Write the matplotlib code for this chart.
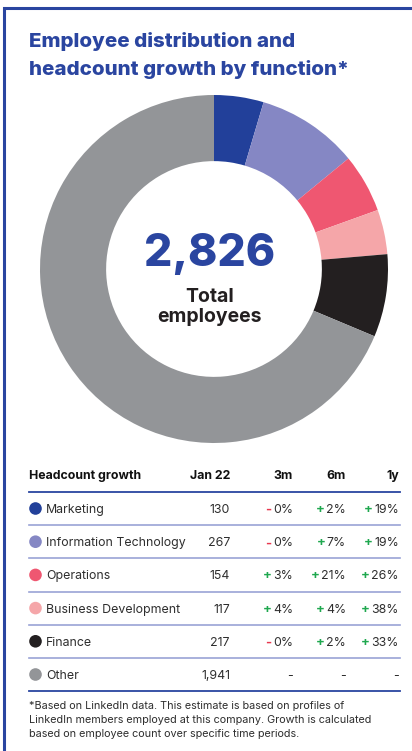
import matplotlib
matplotlib.use("Agg")
import matplotlib.pyplot as plt
from matplotlib.lines import Line2D
from matplotlib.patches import Circle

W, H, DPI = 412, 751, 100

functions = ["Marketing", "Information Technology", "Operations",
             "Business Development", "Finance", "Other"]
jan22 = [130, 267, 154, 117, 217, 1941]
growth_3m = ["-0%", "-0%", "+3%", "+4%", "-0%", None]
growth_6m = ["+2%", "+7%", "+21%", "+4%", "+2%", None]
growth_1y = ["+19%", "+19%", "+26%", "+38%", "+33%", None]
columns = ["Headcount growth", "Jan 22", "3m", "6m", "1y"]
colors = ["#22409a", "#8587c4", "#ef5771", "#f5a6a9", "#231f20", "#939598"]

BLUE = "#2a45a0"
TEXT = "#2e2e2e"
RED = "#e8384f"
GREEN = "#1fa84f"
FONT = ["Inter", "DejaVu Sans"]
FS = 8.9

fig = plt.figure(figsize=(W / DPI, H / DPI), dpi=DPI)
fig.patch.set_facecolor("white")

# full-figure overlay in pixel coordinates
ov = fig.add_axes([0, 0, 1, 1])
ov.set_xlim(0, W)
ov.set_ylim(H, 0)
ov.axis("off")

# frame along top and left edges
ov.add_line(Line2D([4.5, 4.5, W], [H, 7.5, 7.5], color=BLUE, lw=2.2,
                   solid_joinstyle="miter"))

# title
ov.text(29, 47, "Employee distribution and", fontsize=14.8, fontweight="heavy",
        color=BLUE, family=FONT, va="baseline")
ov.text(29, 75, "headcount growth by function*", fontsize=14.8,
        fontweight="heavy", color=BLUE, family=FONT, va="baseline")

# donut
cx, cy, r = 214, 269, 174
pax = fig.add_axes([(cx - r) / W, 1 - (cy + r) / H, 2 * r / W, 2 * r / H])
pax.pie(jan22, colors=colors, startangle=90, counterclock=False, radius=1,
        wedgeprops=dict(width=0.38, linewidth=0))
pax.set_aspect("equal")
pax.set_xlim(-1, 1)
pax.set_ylim(-1, 1)

total = sum(jan22)
ov.text(cx - 4, 254, f"{total:,}", fontsize=32, fontweight="heavy", color=BLUE,
        family=FONT, ha="center", va="center")
ov.text(cx - 4, 297, "Total", fontsize=14, fontweight="bold", color="#231f20",
        family=FONT, ha="center", va="center")
ov.text(cx - 4, 317, "employees", fontsize=14, fontweight="bold",
        color="#231f20", family=FONT, ha="center", va="center")

# table
col_x = [29, 230, 293, 346, 399]
x0, x1 = 29, 400
header_y = 476
for i, name in enumerate(columns):
    ov.text(col_x[i], header_y, name, fontsize=FS, fontweight="bold",
            color="#111111", family=FONT, ha="left" if i == 0 else "right",
            va="center")
ov.plot([x0, x1], [491.5, 491.5], color=BLUE, lw=1.3)

row_y0, row_dy = 508.5, 33.2
dy_text = 1.5
sign_items = []
for k, name in enumerate(functions):
    y = row_y0 + k * row_dy
    ty = y + dy_text
    ov.add_patch(Circle((35.5, y), 6.3, color=colors[k], lw=0))
    ov.text(46, ty, name, fontsize=FS, color=TEXT, family=FONT,
            ha="left", va="center")
    ov.text(col_x[1], ty, f"{jan22[k]:,}", fontsize=FS, color=TEXT,
            family=FONT, ha="right", va="center")
    for c, vals in zip(col_x[2:], [growth_3m, growth_6m, growth_1y]):
        v = vals[k]
        if v is None:
            ov.text(c, ty, "-", fontsize=FS, color=TEXT, family=FONT,
                    ha="right", va="center")
            continue
        t = ov.text(c, ty, v[1:], fontsize=FS, color=TEXT, family=FONT,
                    ha="right", va="center")
        sign_items.append((t, v[0], ty))
    line_y = y + 16.6
    last = k == len(functions) - 1
    ov.plot([x0, x1], [line_y, line_y], color=BLUE if last else "#9aa3d6",
            lw=1.3 if last else 1.2)

# place coloured signs just left of each growth figure
fig.canvas.draw()
renderer = fig.canvas.get_renderer()
inv = ov.transData.inverted()
for t, s, y in sign_items:
    bb = t.get_window_extent(renderer)
    left = inv.transform((bb.x0, bb.y0))[0]
    ov.text(left - 1.5, y, "+" if s == "+" else "-", fontsize=FS + 0.6,
            fontweight="bold", color=GREEN if s == "+" else RED, family=FONT,
            ha="right", va="center")

# footnote
notes = ["*Based on LinkedIn data. This estimate is based on profiles of",
         "LinkedIn members employed at this company. Growth is calculated",
         "based on employee count over specific time periods."]
for i, line in enumerate(notes):
    ov.text(29, 706 + i * 13.8, line, fontsize=7.8, color=TEXT, family=FONT,
            ha="left", va="center")

fig.savefig("out.png", dpi=DPI, facecolor="white")
